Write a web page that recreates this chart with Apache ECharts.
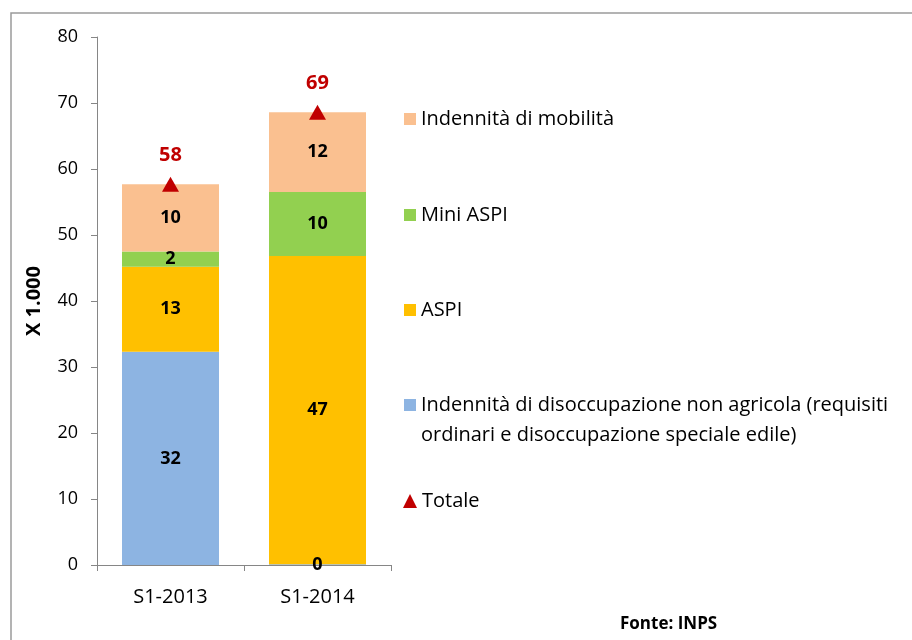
<!DOCTYPE html>
<html>
<head>
<meta charset="utf-8">
<script src="https://cdn.jsdelivr.net/npm/echarts@6/dist/echarts.min.js"></script>
<style>
html,body{margin:0;padding:0;background:#fff;}
#chart{width:912px;height:640px;}
</style>
</head>
<body>
<div id="chart"></div>
<script>
var categories = ['S1-2013', 'S1-2014'];
var disoccupazione = [32.3, 0.1];
var aspi = [12.9, 46.7];
var miniAspi = [2.3, 9.7];
var mobilita = [10.2, 12.1];
var totale = [57.7, 68.6];
var yTicks = [0, 10, 20, 30, 40, 50, 60, 70, 80];

var nameMob = 'Indennità di mobilità';
var nameMini = 'Mini ASPI';
var nameAspi = 'ASPI';
var nameDis = 'Indennità di disoccupazione non agricola (requisiti ordinari e disoccupazione speciale edile)';
var nameTot = 'Totale';

var FONT = 'Open Sans';
var chart = echarts.init(document.getElementById('chart'));

function barSeries(name, data, color) {
  return {
    name: name, type: 'bar', stack: 'tot', data: data, barWidth: 97,
    itemStyle: { color: color },
    label: {
      show: true, position: 'inside', color: '#000', fontWeight: 'bold',
      fontSize: 18, fontFamily: FONT,
      formatter: function (p) { return Math.round(p.value); }
    },
    emphasis: { disabled: true }
  };
}

function legendAt(name, centerY, icon) {
  return {
    data: [{ name: name, icon: icon }],
    left: 404, top: centerY - 15, padding: 0,
    itemWidth: 12, itemHeight: 12, selectedMode: false,
    textStyle: { fontSize: 20, fontFamily: FONT, color: '#000', lineHeight: 30 },
    formatter: function (n) {
      if (n === nameDis) return '\nIndennità di disoccupazione non agricola (requisiti\nordinari e disoccupazione speciale edile)';
      return n;
    }
  };
}

var option = {
  animation: false,
  backgroundColor: '#fff',
  textStyle: { fontFamily: FONT },
  grid: { left: 97, right: 521, top: 37, bottom: 75, containLabel: false },
  xAxis: {
    type: 'category', data: categories,
    axisLine: { lineStyle: { color: '#868686', width: 1 } },
    axisTick: { show: true, length: 6, lineStyle: { color: '#868686' } },
    axisLabel: { color: '#000', fontSize: 20, fontFamily: FONT, margin: 22 }
  },
  yAxis: {
    type: 'value', min: 0, max: 80, interval: 10,
    name: 'X 1.000', nameLocation: 'middle', nameGap: 53, nameRotate: 90,
    nameTextStyle: { fontWeight: 'bold', fontSize: 20, color: '#000', fontFamily: FONT },
    axisLine: { show: true, lineStyle: { color: '#868686', width: 1 } },
    axisTick: { show: true, length: 6, lineStyle: { color: '#868686' } },
    axisLabel: { color: '#000', fontSize: 18, fontFamily: FONT, margin: 19,
      formatter: function (v) { return yTicks.indexOf(v) >= 0 ? String(v) : ''; } },
    splitLine: { show: false }
  },
  legend: [
    legendAt(nameMob, 119, 'rect'),
    legendAt(nameMini, 215, 'rect'),
    legendAt(nameAspi, 310, 'rect'),
    Object.assign(legendAt(nameDis, 405, 'rect'), { top: 405 - 45 }),
    Object.assign(legendAt(nameTot, 501, 'triangle'), { left: 403, itemWidth: 14, itemHeight: 14 })
  ],
  series: [
    barSeries(nameDis, disoccupazione, '#8DB4E2'),
    barSeries(nameAspi, aspi, '#FFC000'),
    barSeries(nameMini, miniAspi, '#92D050'),
    barSeries(nameMob, mobilita, '#FAC090'),
    {
      name: nameTot, type: 'line', data: totale,
      symbol: 'triangle', symbolSize: [17, 15],
      lineStyle: { width: 0, opacity: 0 },
      itemStyle: { color: '#C00000' },
      label: { show: true, position: 'top', distance: 11, color: '#C00000',
        fontWeight: 'bold', fontSize: 20, fontFamily: FONT,
        formatter: function (p) { return Math.round(p.value); } },
      emphasis: { disabled: true },
      z: 5
    }
  ],
  graphic: [
    { type: 'rect', shape: { x: 11, y: 13, width: 1000, height: 1000 },
      style: { fill: 'none', stroke: '#9A9A9A', lineWidth: 1.5 }, silent: true },
    { type: 'text', left: 620, top: 616,
      style: { text: 'Fonte: INPS', font: 'bold 17px "Open Sans"', fill: '#000' } }
  ]
};
chart.setOption(option);
</script>
</body>
</html>
